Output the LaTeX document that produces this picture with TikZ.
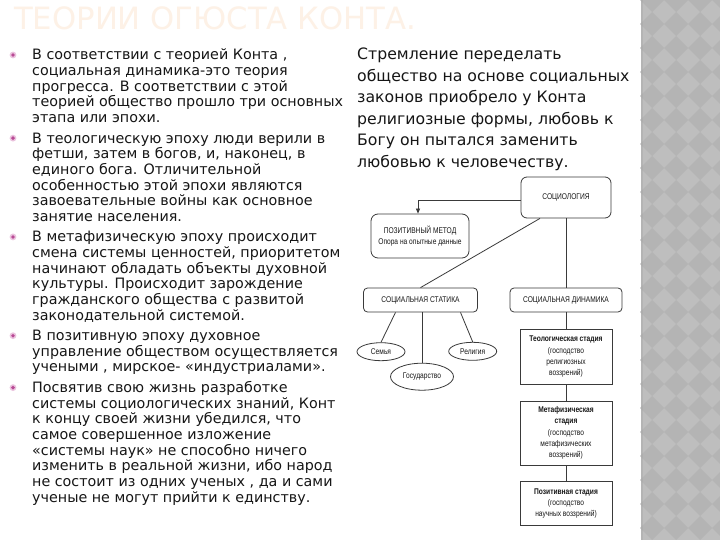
\documentclass[tikz,border=0pt]{standalone}
\usepackage{fontspec}
\setmainfont{DejaVu Sans}
\newfontfamily\schemefont[FakeStretch=0.8]{Liberation Sans}
\usetikzlibrary{arrows.meta,shapes.geometric}

\definecolor{bodytext}{HTML}{161616}
\definecolor{titlepeach}{HTML}{FDF1E6}
\definecolor{bulletpink}{HTML}{B84A95}
\definecolor{bulletring}{HTML}{EBC3DE}
\definecolor{stripegray}{HTML}{BEBEBE}
\definecolor{diamondgray}{HTML}{B4B4B4}
\definecolor{schemeline}{HTML}{3A3A3A}

\begin{document}
\begin{tikzpicture}[x=1pt,y=-1pt,
  para/.style={anchor=base west,inner sep=0pt,align=left,text=bodytext,
    font=\fontsize{14.3}{15.63}\selectfont},
  roundbox/.style={draw=schemeline,line width=0.8pt,rounded corners=6pt,align=center,
    inner sep=0pt,text=bodytext,font=\schemefont\fontsize{8.3}{11.5}\selectfont},
  stagebox/.style={draw=schemeline,line width=0.8pt,align=center,inner sep=0pt,
    minimum width=92pt,text=bodytext,font=\schemefont\fontsize{8.3}{11.3}\selectfont},
  oval/.style={ellipse,draw=schemeline,line width=0.8pt,inner sep=0pt,text=bodytext,
    font=\schemefont\fontsize{8.3}{10}\selectfont},
  link/.style={draw=schemeline,line width=0.8pt}]
  \def\pitch{15.63}
  \def\gap{5}
  \useasboundingbox (0,0) rectangle (720,540);
  \fill[white] (0,0) rectangle (720,540);

  % grey stripe on the right
  \fill[stripegray] (641,0) rectangle (720,540);
  \foreach \row in {0,...,23} {  %for each row of diamonds
    \foreach \col in {0,...,3} {
      \fill[diamondgray] ({652+24*\col},{24*\row-12}) -- ++(12,12) -- ++(-12,12) -- ++(-12,-12) -- cycle;
    }
  }
  \fill[diamondgray!85!black,opacity=0.25] (641,0) rectangle (643,540);

  % title
  \node[anchor=base west,inner sep=0pt,text=titlepeach,font=\fontsize{30.7}{31}\selectfont]
    (title) at (14,30) {ТЕОРИИ ОГЮСТА КОНТА.};

  % left column (a node's base is the base of its last line)
  \node[para] (p1) at (32,{60+4*\pitch}) {В соответствии с теорией Конта ,\\
    социальная динамика-это теория\\
    прогресса. В соответствии с этой\\
    теорией общество прошло три основных\\
    этапа или эпохи.};
  \node[para] (p2) at (32,{60+10*\pitch+\gap}) {В теологическую эпоху люди верили в\\
    фетши, затем в богов, и, наконец, в\\
    единого бога. Отличительной\\
    особенностью этой эпохи являются\\
    завоевательные войны как основное\\
    занятие населения.};
  \node[para] (p3) at (32,{60+16*\pitch+2*\gap}) {В метафизическую эпоху происходит\\
    смена системы ценностей, приоритетом\\
    начинают обладать объекты духовной\\
    культуры. Происходит зарождение\\
    гражданского общества с развитой\\
    законодательной системой.};
  \node[para] (p4) at (32,{60+19*\pitch+3*\gap}) {В позитивную эпоху духовное\\
    управление обществом осуществляется\\
    учеными , мирское- «индустриалами».};
  \node[para] (p5) at (32,{60+27*\pitch+4*\gap}) {Посвятив свою жизнь разработке\\
    системы социологических знаний, Конт\\
    к концу своей жизни убедился, что\\
    самое совершенное изложение\\
    «системы наук» не способно ничего\\
    изменить в реальной жизни, ибо народ\\
    не состоит из одних ученых , да и сами\\
    ученые не могут прийти к единству.};
  \foreach \n/\k in {0/0,5/1,11/2,17/3,20/4} {  %for each bullet: lines and gaps above it
    \fill[bulletring] (13,{60+\n*\pitch+\k*\gap-5}) circle (3.4);
    \fill[bulletpink] (13,{60+\n*\pitch+\k*\gap-5}) circle (1.9);
  }

  % right column
  \node[para,font=\fontsize{15.7}{21.6}\selectfont] (aim) at (357,{59.5+5*21.6})
    {Стремление переделать\\
    общество на основе социальных\\
    законов приобрело у Конта\\
    религиозные формы, любовь к\\
    Богу он пытался заменить\\
    любовью к человечеству.};

  % scheme
  \node[roundbox,minimum width=90pt,minimum height=41pt] (socio) at (566,197.5) {СОЦИОЛОГИЯ};
  \node[roundbox,minimum width=98pt,minimum height=44pt,rounded corners=7pt] (posmet) at (420,236)
    {ПОЗИТИВНЫЙ МЕТОД\\Опора на опытные данные};
  \node[roundbox,minimum width=114pt,minimum height=24pt,rounded corners=4pt] (statika) at (420.5,300)
    {СОЦИАЛЬНАЯ СТАТИКА};
  \node[roundbox,minimum width=112pt,minimum height=24pt,rounded corners=4pt] (dinamika) at (566,300)
    {СОЦИАЛЬНАЯ ДИНАМИКА};
  \node[oval,minimum width=48pt,minimum height=18pt] (semya) at (381,351.7) {Семья};
  \node[oval,minimum width=63pt,minimum height=27pt] (gos) at (422,376.7) {Государство};
  \node[oval,minimum width=48pt,minimum height=18pt] (relig) at (472.7,351.3) {Религия};
  \node[stagebox,minimum height=55pt] (teolog) at (566,356.7)
    {\bfseries Теологическая стадия\\(господство\\религиозных\\воззрений)};
  \node[stagebox,minimum height=64pt] (metaf) at (566,433)
    {\bfseries Метафизическая\\\bfseries стадия\\(господство\\метафизических\\воззрений)};
  \node[stagebox,minimum height=44pt] (pozit) at (566,503.7)
    {\bfseries Позитивная стадия\\(господство\\научных воззрений)};

  \draw[link,-{Triangle[length=5pt,width=4pt]}] ([yshift=-3]socio.west) -| ([xshift=-2]posmet.north);
  \draw[link] ([xshift=-26]socio.south) -- (statika.north);
  \draw[link] (socio.south) -- (dinamika.north);
  \draw[link] ([xshift=-25]statika.south) -- (semya.north);
  \draw[link] ([xshift=1.5]statika.south) -- (gos.north);
  \draw[link] ([xshift=40]statika.south) -- (relig.north);
  \draw[link] (dinamika.south) -- (teolog.north);
  \draw[link] (teolog.south) -- (metaf.north);
  \draw[link] (metaf.south) -- (pozit.north);
\end{tikzpicture}
\end{document}
